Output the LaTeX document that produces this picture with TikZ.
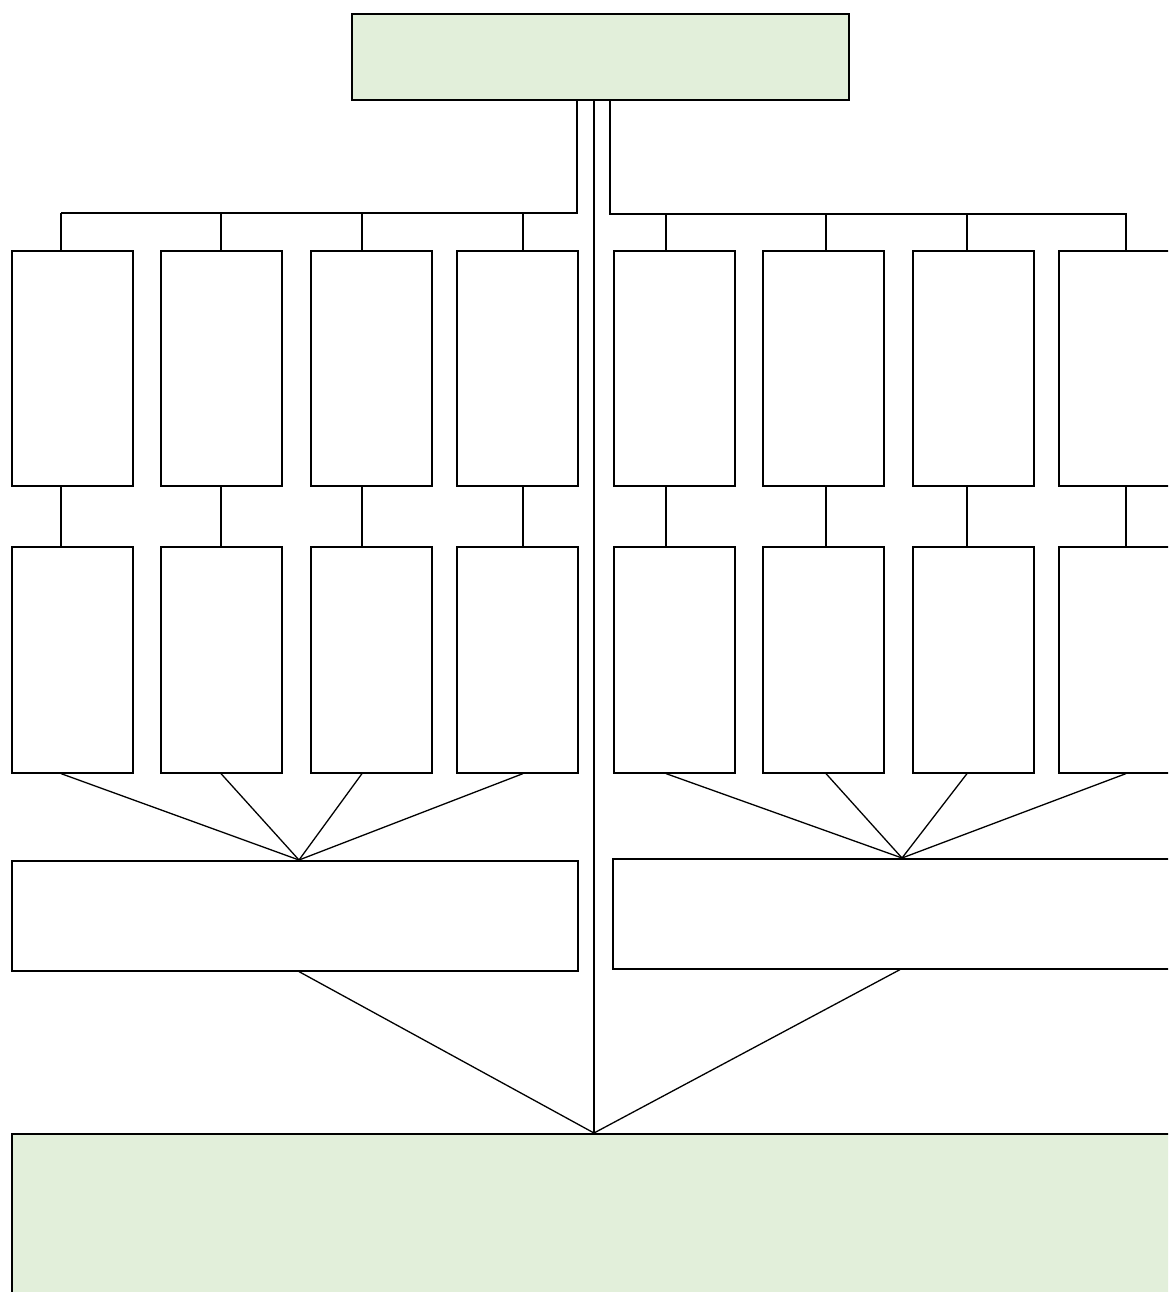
\documentclass[tikz,border=0pt]{standalone}
\definecolor{boxgreen}{HTML}{E2EFDA}
\begin{document}
\begin{tikzpicture}[x=1pt,y=-1pt,
  box/.style={draw=black, line width=1.6pt, inner sep=0pt, anchor=north west, fill=white},
  conn/.style={draw=black, line width=1.3pt}]
\useasboundingbox (0,0) rectangle (1168,1292);
\clip (0,0) rectangle (1168,1292);
% boxes
\node[box, fill=boxgreen, minimum width=497pt, minimum height=86pt] (top) at (351,13) {};
\foreach \n/\x/\w in {L1/11/121, L2/160/121, L3/310/121, L4/456/121, R1/613/121, R2/762/121, R3/912/121, R4/1058/130} {
  \node[box, minimum width=\w pt, minimum height=235pt] (a\n) at (\x,250) {};
  \node[box, minimum width=\w pt, minimum height=226pt] (b\n) at (\x,546) {};
}
\node[box, minimum width=566pt, minimum height=110pt] (ML) at (11,860) {};
\node[box, minimum width=570pt, minimum height=110pt] (MR) at (612,858) {};
\node[box, fill=boxgreen, minimum width=1170pt, minimum height=200pt] (bottom) at (11,1133) {};
% coordinates
\coordinate (hubL) at (577,0);
\coordinate (hubR) at (610,0);
\coordinate (busL) at (61,213);
\coordinate (busR) at (1127,214);
\coordinate (cx) at (594,0);
\coordinate (cL) at (299,0);
\coordinate (cR) at (902,0);
\coordinate (dL) at (299,0);
\coordinate (dR) at (900,0);
% top connectors
\draw[conn] (top.south -| hubL) |- (busL);
\draw[conn] (top.south -| hubR) |- (busR);
\draw[conn] (top.south -| cx) -- (bottom.north -| cx);
% left branch
\foreach \n/\x in {L1/61, L2/221, L3/362, L4/523} {
  \coordinate (t) at (\x,0);
  \draw[conn] (t |- busL) -- (t |- a\n.north);
  \draw[conn] (t |- a\n.south) -- (t |- b\n.north);
  \draw[conn] (t |- b\n.south) -- (ML.north -| cL);
}
% right branch
\foreach \n/\x in {R1/666, R2/826, R3/967, R4/1126} {
  \coordinate (t) at (\x,0);
  \draw[conn] (t |- busR) -- (t |- a\n.north);
  \draw[conn] (t |- a\n.south) -- (t |- b\n.north);
  \draw[conn] (t |- b\n.south) -- (MR.north -| cR);
}
% to bottom
\draw[conn] (ML.south -| dL) -- (bottom.north -| cx);
\draw[conn] (MR.south -| dR) -- (bottom.north -| cx);
\end{tikzpicture}
\end{document}
